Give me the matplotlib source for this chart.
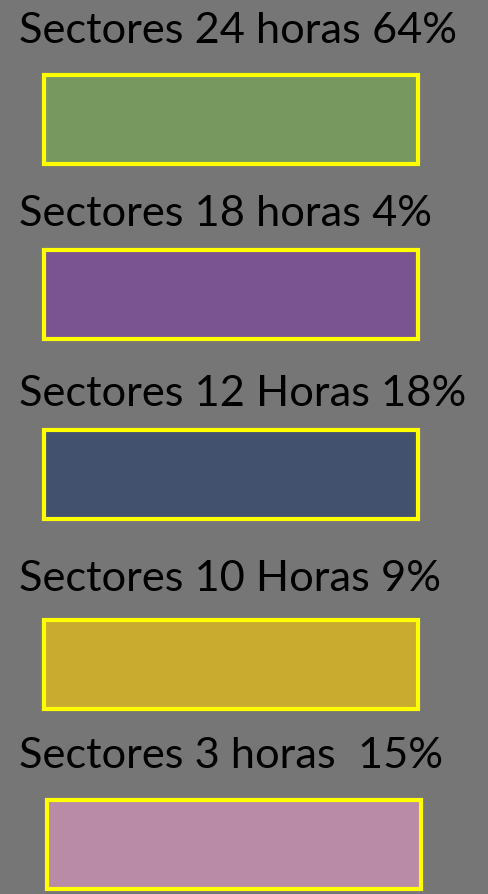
import matplotlib
matplotlib.use("Agg")
import matplotlib.pyplot as plt

# legend entries
sectores = ["24 horas", "18 horas", "12 Horas", "10 Horas", "3 horas "]
porcentajes = [64, 4, 18, 9, 15]
colores = ["#77985F", "#795491", "#42516D", "#C9AB30", "#BA8BA7"]

# layout in pixels (figure is 488 x 895)
text_base = [43, 226, 406, 591, 768]
box_top = [76, 251, 431, 621, 801]
box_left = [44, 44, 44, 44, 47]
box_w = 374
box_h = 89

plt.rcParams['font.family'] = ['Lato', 'DejaVu Sans']

fig = plt.figure(figsize=(4.88, 8.95), dpi=100)
fig.patch.set_facecolor("#767676")
ax = fig.add_axes([0, 0, 1, 1])
ax.set_facecolor("#767676")
ax.set_xlim(0, 488)
ax.set_ylim(895, 0)
ax.axis("off")

for i, (s, p, c) in enumerate(zip(sectores, porcentajes, colores)):
    ax.text(19, text_base[i], f"Sectores {s} {p}%", fontsize=31.2,
            color="black", ha="left", va="baseline")
    ax.bar(box_left[i], box_h, width=box_w, bottom=box_top[i], align="edge",
           color=c, edgecolor="#FFFF00", linewidth=3)

fig.savefig("out.png", dpi=100, facecolor=fig.get_facecolor())
